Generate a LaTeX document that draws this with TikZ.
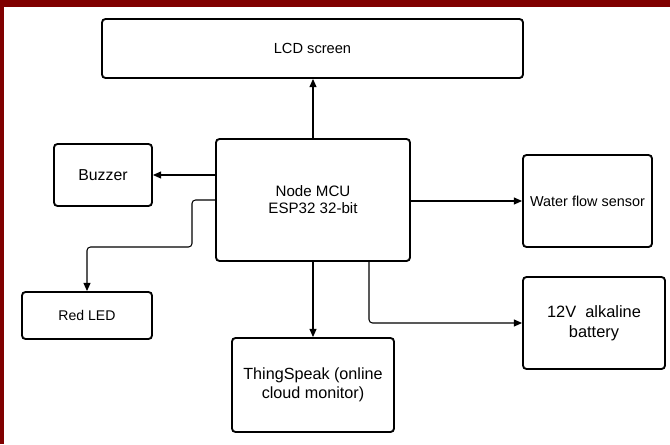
\documentclass[tikz,border=0pt]{standalone}
\usepackage{fontspec}
\setmainfont{Liberation Sans}
\usetikzlibrary{arrows.meta,calc,positioning}
\definecolor{Frame_Red}{HTML}{800000}

\begin{document}
\begin{tikzpicture}[x=0.03cm, y=-0.03cm, >={Triangle[length=7pt,width=6pt]},
    block/.style={draw, line width=1.6pt, rounded corners=3pt, align=center, inner sep=2pt,
        font=\fontsize{12.5}{15}\selectfont},
    link/.style={->, line width=0.9pt, rounded corners=3pt}]
    % Frame
    \fill[Frame_Red] (0,0) rectangle (670,444);
    \fill[white] (4,7) rectangle (670,444);

    % Controller and display
    \node[block, minimum width=12.63cm, minimum height=1.77cm] (lcd) at (312.5,48.5) {LCD screen};
    \node[block, minimum width=5.82cm, minimum height=3.66cm, font=\fontsize{12.9}{14.5}\selectfont] (mcu) at (313,200) {Node MCU\\ESP32 32-bit};

    % Left side
    \node[block, minimum width=2.94cm, minimum height=1.86cm, font=\fontsize{13.5}{16}\selectfont] (buzzer) at (103,175) {Buzzer};
    \node[block, minimum width=3.9cm, minimum height=1.41cm, font=\fontsize{12}{14}\selectfont] (led) at (87,315.5) {Red LED};

    % Bottom
    \node[block, minimum width=4.86cm, minimum height=2.82cm, font=\fontsize{13.8}{16.2}\selectfont] (cloud) at (313,385) {ThingSpeak (online\\cloud monitor)};

    % Right side
    \node[block, minimum width=3.87cm, minimum height=2.76cm, font=\fontsize{12.3}{15}\selectfont] (water) at (587.5,201) {Water flow sensor};
    \node[block, minimum width=4.26cm, minimum height=2.76cm, font=\fontsize{14}{17}\selectfont] (battery) at (594,323) {12V\ \ alkaline\\battery};

    % Connections
    \coordinate (ledbend) at (192,247);
    \draw[link] (mcu.north) -- (mcu.north |- lcd.south);
    \draw[link] (mcu.west |- buzzer) -- (buzzer.east);
    \draw[link] (mcu.west) -| (ledbend) -| (led.north);
    \draw[link] (mcu.east |- water) -- (water.west);
    \draw[link] (mcu.south) -- (cloud.north);
    \draw[link] ($(mcu.south)+(56,0)$) |- (battery.west);

\end{tikzpicture}
\end{document}
